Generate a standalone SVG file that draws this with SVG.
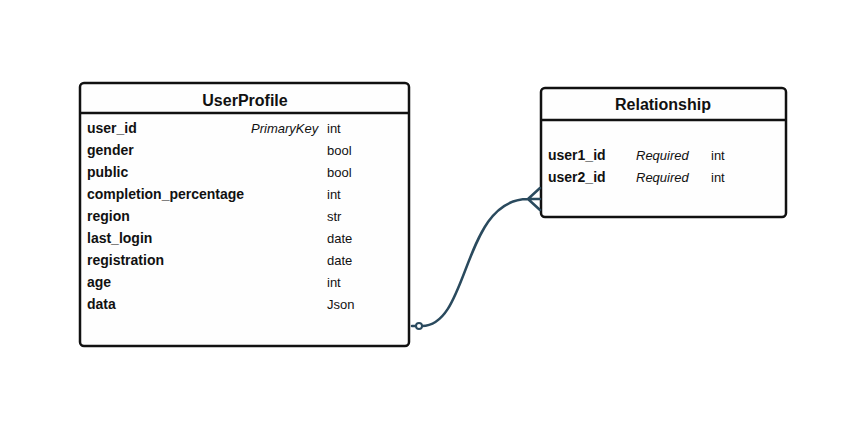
<svg xmlns="http://www.w3.org/2000/svg" width="866" height="426" viewBox="0 0 866 426">
<style>
.box{fill:#fefefe;stroke:#111;stroke-width:2.5}
.sep{stroke:#111;stroke-width:2.5}
.title{font-family:"Liberation Sans",Arial,sans-serif;font-size:16px;font-weight:bold;fill:#111;text-anchor:middle}
.f{font-family:"Liberation Sans",Arial,sans-serif;font-size:14px;font-weight:bold;fill:#111}
.i{font-family:"Liberation Sans",Arial,sans-serif;font-size:13px;font-style:italic;fill:#111}
.t{font-family:"Liberation Sans",Arial,sans-serif;font-size:13px;fill:#111}
.conn{fill:none;stroke:#2a4a5e;stroke-width:2.5;stroke-linecap:round}
</style>
<rect width="866" height="426" fill="#fff"/>
<g id="UserProfile">
<rect class="box" x="80" y="83" width="329" height="263" rx="4"/>
<line class="sep" x1="80" y1="113" x2="409" y2="113"/>
<text class="title" x="245" y="106">UserProfile</text>
<text class="f" x="87" y="133">user_id</text><text class="i" x="251" y="133">PrimaryKey</text><text class="t" x="327" y="133">int</text>
<text class="f" x="87" y="155">gender</text><text class="t" x="327" y="155">bool</text>
<text class="f" x="87" y="177">public</text><text class="t" x="327" y="177">bool</text>
<text class="f" x="87" y="199">completion_percentage</text><text class="t" x="327" y="199">int</text>
<text class="f" x="87" y="221">region</text><text class="t" x="327" y="221">str</text>
<text class="f" x="87" y="243">last_login</text><text class="t" x="327" y="243">date</text>
<text class="f" x="87" y="265">registration</text><text class="t" x="327" y="265">date</text>
<text class="f" x="87" y="287">age</text><text class="t" x="327" y="287">int</text>
<text class="f" x="87" y="309">data</text><text class="t" x="327" y="309">Json</text>
</g>
<g id="Relationship">
<rect class="box" x="541" y="88" width="245" height="129" rx="4"/>
<line class="sep" x1="541" y1="120" x2="786" y2="120"/>
<text class="title" x="663" y="110">Relationship</text>
<text class="f" x="548" y="160">user1_id</text><text class="i" x="636" y="160">Required</text><text class="t" x="711" y="160">int</text>
<text class="f" x="548" y="182">user2_id</text><text class="i" x="636" y="182">Required</text><text class="t" x="711" y="182">int</text>
</g>
<g id="connectors">
<path class="conn" d="M412 326 L416 326 M422 326 C470 326 462 199 528 199 L540 199 M528 199 L540 188 M528 199 L540 210"/>
<circle cx="419" cy="326" r="3" fill="#fff" stroke="#2a4a5e" stroke-width="2"/>
</g>
</svg>
